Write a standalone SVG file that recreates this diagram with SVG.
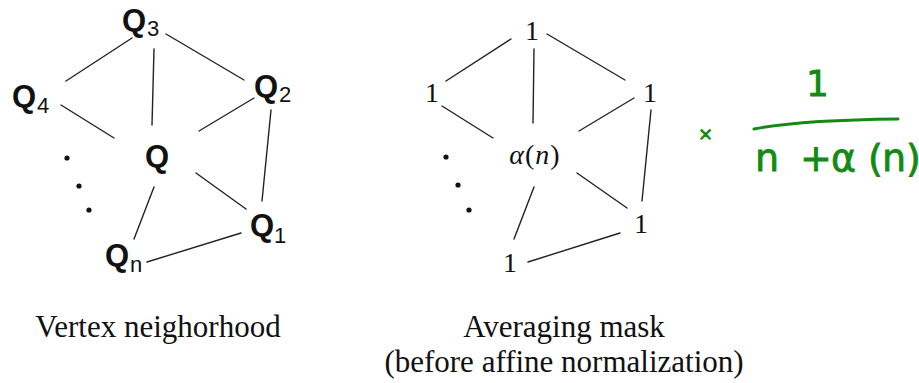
<svg xmlns="http://www.w3.org/2000/svg" width="919" height="383" viewBox="0 0 919 383">
<style>
.edge{stroke:#222;stroke-width:1.4;stroke-linecap:round;fill:none}
.q{font-family:"Liberation Sans",Arial,sans-serif;font-weight:bold;font-size:31px;fill:#111}
.sub{font-family:"Liberation Sans",Arial,sans-serif;font-size:22px;fill:#111}
.m{font-family:"Liberation Serif","Times New Roman",serif;font-size:28px;fill:#111;text-anchor:middle}
.cap{font-family:"Liberation Serif","Times New Roman",serif;font-size:31px;fill:#111;text-anchor:middle}
.dot{fill:#111}
.g{font-family:"DejaVu Sans","Liberation Sans",sans-serif;fill:#138a13;stroke:#138a13;stroke-width:0.8}
</style>
<rect width="919" height="383" fill="#fff"/>
<g id="connectors">
<line class="edge" x1="132" y1="38" x2="66" y2="81"/>
<line class="edge" x1="166" y1="34" x2="244" y2="80"/>
<line class="edge" x1="154" y1="49" x2="152" y2="125"/>
<line class="edge" x1="61" y1="105" x2="114" y2="138"/>
<line class="edge" x1="254" y1="98" x2="199" y2="131"/>
<line class="edge" x1="271" y1="110" x2="262" y2="201"/>
<line class="edge" x1="196" y1="173" x2="246" y2="209"/>
<line class="edge" x1="154" y1="187" x2="134" y2="239"/>
<line class="edge" x1="147" y1="262" x2="241" y2="233"/>
<line class="edge" x1="511" y1="39" x2="446" y2="81"/>
<line class="edge" x1="547" y1="34" x2="625" y2="80"/>
<line class="edge" x1="534" y1="49" x2="533" y2="123"/>
<line class="edge" x1="442" y1="106" x2="493" y2="138"/>
<line class="edge" x1="634" y1="98" x2="579" y2="131"/>
<line class="edge" x1="651" y1="110" x2="642" y2="201"/>
<line class="edge" x1="577" y1="173" x2="627" y2="208"/>
<line class="edge" x1="534" y1="187" x2="514" y2="239"/>
<line class="edge" x1="528" y1="262" x2="620" y2="233"/>
</g>
<g id="Q3"><text class="q" x="122" y="31">Q</text><text class="sub" x="147" y="36">3</text></g>
<g id="Q4"><text class="q" x="12" y="107">Q</text><text class="sub" x="37" y="113">4</text></g>
<g id="Q2"><text class="q" x="254" y="97">Q</text><text class="sub" x="279" y="102">2</text></g>
<g id="Q"><text class="q" x="145" y="167">Q</text></g>
<g id="Q1"><text class="q" x="250" y="236">Q</text><text class="sub" x="274" y="243">1</text></g>
<g id="Qn"><text class="q" x="105" y="266">Q</text><text class="sub" x="130" y="272">n</text></g>
<g id="dots-left"><circle class="dot" cx="67" cy="158" r="2.6"/><circle class="dot" cx="79" cy="186" r="2.6"/><circle class="dot" cx="89" cy="210" r="2.6"/></g>
<g id="m-top"><text class="m" x="532" y="40">1</text></g>
<g id="m-left"><text class="m" x="432" y="102">1</text></g>
<g id="m-right"><text class="m" x="650" y="102">1</text></g>
<g id="m-center"><text class="m" x="535" y="164" font-size="31" letter-spacing="1"><tspan font-style="italic">α</tspan>(<tspan font-style="italic">n</tspan>)</text></g>
<g id="m-br"><text class="m" x="641" y="233">1</text></g>
<g id="m-bottom"><text class="m" x="510" y="272">1</text></g>
<g id="dots-right"><circle class="dot" cx="446" cy="157" r="2.6"/><circle class="dot" cx="458" cy="185" r="2.6"/><circle class="dot" cx="469" cy="210" r="2.6"/></g>
<g id="captions">
<text class="cap" x="158" y="337">Vertex neighorhood</text>
<text class="cap" x="564" y="337">Averaging mask</text>
<text class="cap" x="564" y="372">(before affine normalization)</text>
</g>
<g id="annotation">
<text class="g" x="698" y="140" font-size="18">×</text>
<text class="g" x="806" y="96" font-size="36">1</text>
<path d="M754 129 Q 800 120 898 119" stroke="#138a13" stroke-width="3" fill="none" stroke-linecap="round"/>
<text class="g" font-size="38" y="171"><tspan x="755">n</tspan><tspan x="800">+</tspan><tspan x="831">α</tspan><tspan x="868">(</tspan><tspan x="882">n</tspan><tspan x="906">)</tspan></text>
</g>
</svg>
